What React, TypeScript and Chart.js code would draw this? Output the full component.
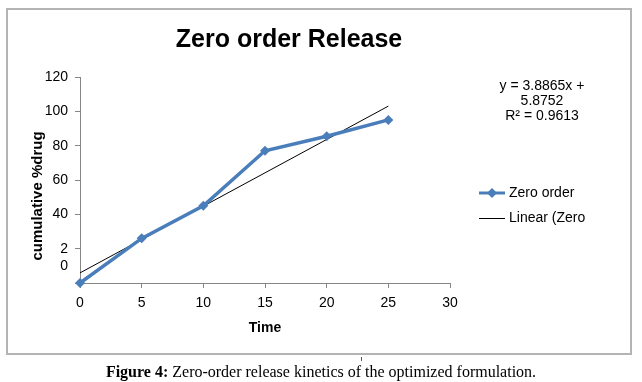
import React, { useEffect, useRef } from "react";
import { Chart, registerables } from "chart.js";

Chart.register(...registerables);

const chartTitle = "Zero order Release";
const xAxisTitle = "Time";
const yAxisTitle = "cumulative %drug";
const timePoints = [0, 5, 10, 15, 20, 25];
const zeroOrder = [0, 26, 45, 77, 85.5, 95];
const trendX = [0, 25];
const trendY = [5.88, 103.04];
const xTickValues = [0, 5, 10, 15, 20, 25, 30];
const yTickValues = [0, 10, 20, 40, 60, 80, 100, 120];
const yTickLabels = ["", "0", "2", "40", "60", "80", "100", "120"];
const equationLines = ["y = 3.8865x +", "5.8752", "R\u00b2 = 0.9613"];
const legendLabels = ["Zero order", "Linear (Zero"];
const caption = "Zero-order release kinetics of the optimized formulation.";

const BLUE = "#4a7ebb";
const AXIS = "#868686";
const FONT = "'Liberation Sans', Arial, sans-serif";

const extrasPlugin = {
  id: "extras",
  afterDraw(chart: any) {
    const ctx = chart.ctx as CanvasRenderingContext2D;
    ctx.save();
    ctx.fillStyle = "#000";
    ctx.textBaseline = "middle";
    ctx.textAlign = "center";
    // Title
    ctx.font = `bold 25px ${FONT}`;
    ctx.fillText(chartTitle, 289, 40);
    // X axis title
    ctx.font = `bold 14px ${FONT}`;
    ctx.fillText(xAxisTitle, 265, 328);
    // Y axis title
    ctx.save();
    ctx.translate(38, 196);
    ctx.rotate(-Math.PI / 2);
    ctx.font = `bold 15px ${FONT}`;
    ctx.fillText(yAxisTitle, 0, 0);
    ctx.restore();
    // Equation
    ctx.font = `14px ${FONT}`;
    equationLines.forEach((l, i) => ctx.fillText(l, 542, 86 + i * 15));
    // Legend
    ctx.textAlign = "left";
    ctx.strokeStyle = BLUE;
    ctx.lineWidth = 3;
    ctx.beginPath();
    ctx.moveTo(479, 193);
    ctx.lineTo(505, 193);
    ctx.stroke();
    ctx.fillStyle = BLUE;
    ctx.beginPath();
    ctx.moveTo(492, 188);
    ctx.lineTo(497, 193);
    ctx.lineTo(492, 198);
    ctx.lineTo(487, 193);
    ctx.closePath();
    ctx.fill();
    ctx.strokeStyle = "#000";
    ctx.lineWidth = 1;
    ctx.beginPath();
    ctx.moveTo(479, 218.5);
    ctx.lineTo(505, 218.5);
    ctx.stroke();
    ctx.fillStyle = "#000";
    ctx.fillText(legendLabels[0], 509, 193);
    ctx.fillText(legendLabels[1], 509, 218);
    ctx.restore();
  },
};

export default function App() {
  const ref = useRef<HTMLCanvasElement>(null);
  useEffect(() => {
    if (!ref.current) return;
    const chart = new Chart(ref.current, {
      type: "scatter",
      data: {
        datasets: [
          {
            label: legendLabels[0],
            data: timePoints.map((t, i) => ({ x: t, y: zeroOrder[i] })),
            showLine: true,
            borderColor: BLUE,
            backgroundColor: BLUE,
            borderWidth: 3.5,
            pointStyle: "rectRot",
            pointRadius: 5,
            pointBorderWidth: 0,
            clip: false,
          } as any,
          {
            label: legendLabels[1],
            data: trendX.map((t, i) => ({ x: t, y: trendY[i] })),
            showLine: true,
            borderColor: "#000",
            borderWidth: 1,
            pointRadius: 0,
            clip: false,
          } as any,
        ],
      },
      options: {
        animation: false,
        responsive: false,
        layout: { padding: { top: 77, right: 192, left: 0, bottom: 0 } },
        plugins: { legend: { display: false }, title: { display: false }, tooltip: { enabled: false } },
        scales: {
          x: {
            type: "linear",
            min: 0,
            max: 30,
            afterFit: (s: any) => {
              s.height = 99;
            },
            afterBuildTicks: (s: any) => {
              s.ticks = xTickValues.map((v) => ({ value: v }));
            },
            ticks: { color: "#000", font: { family: FONT, size: 14 }, padding: 7, autoSkip: false, maxRotation: 0 },
            grid: { drawOnChartArea: false, drawTicks: true, tickLength: 5, tickColor: AXIS },
            border: { color: AXIS, width: 1 },
          },
          y: {
            type: "linear",
            min: 0,
            max: 120,
            afterFit: (s: any) => {
              s.width = 80;
            },
            afterBuildTicks: (s: any) => {
              s.ticks = yTickValues.map((v) => ({ value: v }));
            },
            ticks: {
              color: "#000",
              font: { family: FONT, size: 14 },
              padding: 7,
              autoSkip: false,
              callback: (v: any) => {
                const i = yTickValues.indexOf(Number(v));
                return i >= 0 ? yTickLabels[i] : "";
              },
            },
            grid: {
              drawOnChartArea: false,
              drawTicks: true,
              tickLength: 5,
              tickColor: (c: any) => (c.tick && c.tick.value === 10 ? "rgba(0,0,0,0)" : AXIS),
            },
            border: { color: AXIS, width: 1 },
          },
        },
      },
      plugins: [extrasPlugin],
    });
    return () => chart.destroy();
  }, []);

  return (
    <div style={{ position: "fixed", left: 0, top: 0, width: 642, height: 382, background: "#fff" }}>
      <canvas ref={ref} width={642} height={382} style={{ position: "absolute", left: 0, top: 0, width: 642, height: 382 }} />
      <div
        style={{
          position: "absolute",
          left: 6,
          top: 8,
          width: 626,
          height: 347,
          boxSizing: "border-box",
          border: "2px solid #b4b4b4",
          pointerEvents: "none",
        }}
      />
      <div style={{ position: "absolute", left: 361, top: 357, width: 1, height: 4, background: "#555" }} />
      <div
        style={{
          position: "absolute",
          left: 0,
          top: 362,
          width: 642,
          textAlign: "center",
          fontFamily: "'Liberation Serif', 'Times New Roman', serif",
          fontSize: 16,
          lineHeight: "20px",
          color: "#000",
        }}
      >
        <b>Figure 4:</b> {caption}
      </div>
    </div>
  );
}
